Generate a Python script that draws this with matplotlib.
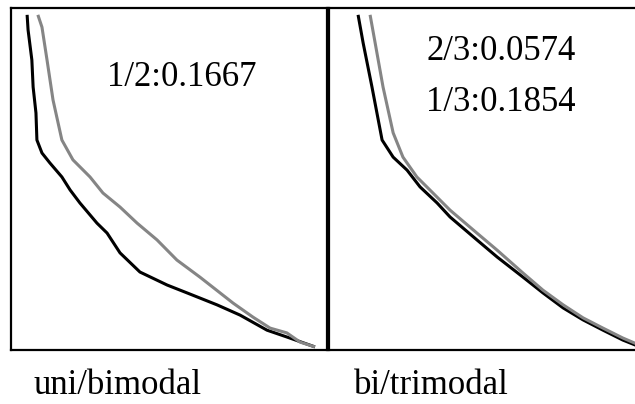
import matplotlib
matplotlib.use("Agg")
import matplotlib.pyplot as plt

plt.rcParams.update({"font.family": ["Liberation Serif", "DejaVu Serif"]})

# left panel: uni/bimodal
uni_black_x = [5.1, 5.4, 6.6, 7.0, 7.9, 8.2, 9.8, 12.3, 16.1, 18.7, 21.8, 27.2, 30.4, 34.5, 40.8,
               49.4, 55.7, 65.2, 72.5, 81.0, 87.3, 96.2]
uni_black_y = [98.0, 93.6, 84.8, 76.9, 69.3, 61.4, 57.6, 54.7, 50.6, 46.8, 43.0, 37.1, 34.2, 28.4, 22.8,
               19.0, 16.7, 13.2, 10.2, 5.8, 3.8, 0.9]
uni_gray_x = [8.5, 9.8, 11.4, 13.3, 16.1, 19.6, 25.0, 29.1, 34.5, 39.9, 46.2, 52.5, 59.8, 70.3, 76.6,
              82.0, 87.3, 91.5, 96.2]
uni_gray_y = [98.0, 94.4, 84.8, 73.1, 61.4, 55.6, 50.6, 45.9, 41.8, 37.1, 32.2, 26.3, 21.3, 13.7, 9.6,
              6.4, 5.0, 2.3, 0.9]

# right panel: bi/trimodal
bi_black_x = [9.2, 10.8, 13.6, 16.8, 20.3, 24.7, 28.8, 34.2, 38.3, 46.8, 53.2, 61.4, 67.7, 74.1, 80.4,
              86.7, 93.0, 96.8, 99.4]
bi_black_y = [98.0, 89.8, 76.9, 61.4, 56.4, 52.6, 47.7, 43.0, 38.9, 32.2, 27.2, 21.3, 16.7, 12.3, 8.8,
              5.8, 2.9, 1.5, 0.6]
bi_gray_x = [13.0, 14.6, 17.1, 20.3, 23.4, 27.8, 32.9, 38.3, 46.8, 53.2, 61.4, 67.7, 74.1, 80.4, 86.7,
             93.0, 96.8, 99.4]
bi_gray_y = [98.0, 89.8, 76.9, 63.5, 56.4, 50.6, 45.9, 40.9, 34.2, 29.2, 22.5, 17.5, 13.2, 9.4, 6.4,
             3.5, 2.0, 0.9]

uni_text = ["1/2:0.1667"]
bi_text = ["2/3:0.0574", "1/3:0.1854"]
labels = ["uni/bimodal", "bi/trimodal"]

GRAY = "#858585"
W, H = 635, 404
fig = plt.figure(figsize=(W / 100, H / 100), dpi=100)
axL = fig.add_axes([11 / W, 54 / H, 316 / W, 342 / H])
axR = fig.add_axes([329 / W, 54 / H, 316 / W, 342 / H])

for ax, bx, by, gx, gy in [(axL, uni_black_x, uni_black_y, uni_gray_x, uni_gray_y),
                           (axR, bi_black_x, bi_black_y, bi_gray_x, bi_gray_y)]:
    ax.plot(bx, by, color="black", lw=2.2, solid_capstyle="butt")
    ax.plot(gx, gy, color=GRAY, lw=2.2, solid_capstyle="butt")
    ax.set_xlim(0, 100); ax.set_ylim(0, 100)
    ax.set_xticks([]); ax.set_yticks([])
    for s in ax.spines.values():
        s.set_linewidth(1.6)

axL.text(0.541, 0.772, uni_text[0], transform=axL.transAxes, ha="center", va="baseline", fontsize=25)
axR.text(0.544, 0.848, bi_text[0], transform=axR.transAxes, ha="center", va="baseline", fontsize=25)
axR.text(0.544, 0.700, bi_text[1], transform=axR.transAxes, ha="center", va="baseline", fontsize=25)

fig.text(118 / W, 10 / H, labels[0], ha="center", va="baseline", fontsize=25)
fig.text(431 / W, 10 / H, labels[1], ha="center", va="baseline", fontsize=25)

fig.savefig("out.png", dpi=100, facecolor="white")
